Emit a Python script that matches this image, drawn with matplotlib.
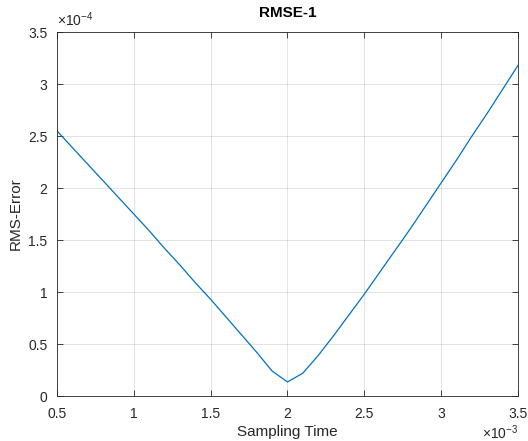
import matplotlib
matplotlib.use("Agg")
import matplotlib.pyplot as plt
from matplotlib.ticker import FuncFormatter, MultipleLocator

plt.rcParams["font.family"] = ["Liberation Sans", "DejaVu Sans"]
plt.rcParams["mathtext.fontset"] = "custom"
plt.rcParams["mathtext.rm"] = "Liberation Sans"
plt.rcParams["mathtext.it"] = "Liberation Sans"

# sampling time (x 1e-3) and RMS error (x 1e-4)
sampling_time_ms = [0.5, 0.6, 0.7, 0.8, 0.9, 1.0, 1.1, 1.2, 1.3, 1.4, 1.5,
                    1.6, 1.7, 1.8, 1.9, 2.0, 2.1, 2.2, 2.3, 2.4, 2.5, 2.6,
                    2.7, 2.8, 2.9, 3.0, 3.1, 3.2, 3.3, 3.4, 3.5]
rms_error_e4 = [2.55, 2.39, 2.23, 2.07, 1.91, 1.75, 1.59, 1.42, 1.26, 1.09, 0.93,
                0.76, 0.59, 0.42, 0.24, 0.135, 0.22, 0.39, 0.58, 0.78, 0.98, 1.19,
                1.40, 1.61, 1.83, 2.05, 2.27, 2.50, 2.72, 2.95, 3.18]

XSCALE = 1e-3
YSCALE = 1e-4
x = [v * XSCALE for v in sampling_time_ms]
y = [v * YSCALE for v in rms_error_e4]

AX_COLOR = (0.15, 0.15, 0.15)

fig = plt.figure(figsize=(5.28, 4.41), dpi=100)
ax = fig.add_axes([0.108, 0.102, 0.873, 0.825])
ax.plot(x, y, color="#0072BD", linewidth=0.9)

ax.set_xlim(0.5e-3, 3.5e-3)
ax.set_ylim(0, 3.5e-4)
ax.xaxis.set_major_locator(MultipleLocator(0.5e-3))
ax.yaxis.set_major_locator(MultipleLocator(0.5e-4))
ax.xaxis.set_major_formatter(FuncFormatter(lambda v, _: f"{v / XSCALE:g}"))
ax.yaxis.set_major_formatter(FuncFormatter(lambda v, _: f"{v / YSCALE:g}"))

ax.grid(True, color=AX_COLOR, alpha=0.15, linewidth=0.6)
ax.set_axisbelow(True)
ax.tick_params(direction="in", top=True, right=True, length=4,
               width=0.6, colors=AX_COLOR, labelsize=10, labelcolor=AX_COLOR)
ax.tick_params(axis="x", pad=8)
ax.tick_params(axis="y", pad=7)
for s in ax.spines.values():
    s.set_color(AX_COLOR)
    s.set_linewidth(0.6)

ax.set_title("RMSE-1", fontsize=11, fontweight="bold", color="black", pad=11)
ax.set_xlabel("Sampling Time", fontsize=11, color=AX_COLOR, labelpad=3)
ax.set_ylabel("RMS-Error", fontsize=11, color=AX_COLOR, labelpad=4)

ax.text(0.0, 1.01, r"$\times10^{-4}$", transform=ax.transAxes, ha="left",
        va="bottom", fontsize=10, color=AX_COLOR)
ax.text(1.0, -0.10, r"$\times10^{-3}$", transform=ax.transAxes, ha="right",
        va="center", fontsize=10, color=AX_COLOR)

fig.savefig("out.png", dpi=100)
